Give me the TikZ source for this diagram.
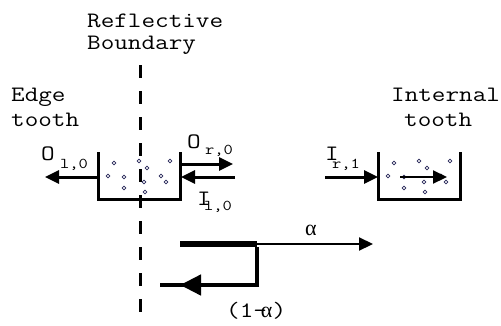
\documentclass[tikz,border=0pt]{standalone}
\usepackage{fontspec}
\newfontfamily\courfont{Latin Modern Mono}[FakeStretch=1.2]
\newfontfamily\greekfont{Liberation Serif}
\usetikzlibrary{arrows.meta}
\definecolor{dotcol}{RGB}{40,40,90}
\begin{document}
\begin{tikzpicture}[x=1pt,y=-1pt,
  lbl/.style={inner sep=0pt, anchor=base west, font=\courfont\fontsize{22}{24}\selectfont},
  sub/.style={inner sep=0pt, anchor=base west, font=\courfont\fontsize{15}{16}\selectfont},
  wall/.style={line width=3pt, miter limit=10},
  flow/.style={line width=3pt, -{Triangle[length=14pt,width=13pt]}},
  thinflow/.style={line width=2.2pt, -{Triangle[length=14pt,width=13pt]}},
  bigflow/.style={line width=4.5pt, -{Triangle[length=21pt,width=20pt]}},
  boundary/.style={line width=3pt, dash pattern=on 13pt off 13pt},
  particle/.style={circle, draw=dotcol, fill=white, line width=0.8pt, inner sep=0pt, minimum size=3.8pt}]
\useasboundingbox (0,0) rectangle (501,325);

% texts
\node[lbl] (refl) at (87,27) {Reflective};
\node[lbl] (bound) at (87,49) {Boundary};
\node[lbl] (edge) at (11,101) {Edge};
\node[lbl] (edgetooth) at (11,126) {tooth};
\node[lbl] (internal) at (391,101) {Internal};
\node[lbl] (inttooth) at (404,126) {tooth};

% reflective boundary
\coordinate (btop) at (140,65);
\coordinate (bbot) at (140,312);
\draw[boundary] (btop) -- (bbot);

% edge tooth box
\coordinate (e1) at (98,152);
\coordinate (e2) at (98,199);
\coordinate (e3) at (180,199);
\coordinate (e4) at (180,152);
\draw[wall] (e1) -- (e2) -- (e3) -- (e4);

% internal tooth box
\coordinate (i1) at (378,152);
\coordinate (i2) at (378,199);
\coordinate (i3) at (460,199);
\coordinate (i4) at (460,152);
\draw[wall] (i1) -- (i2) -- (i3) -- (i4);

% particles
\foreach \dx/\nm in {0/e,280/i}{
  \foreach \px/\py [count=\k] in {114/163,108/176,124/177,124/188,139/161,147/168,144/182,145/192,161/176,166/182,170/161}{
    \node[particle] (\nm dot\k) at (\px+\dx,\py) {};
  }
}

% edge tooth flows
\coordinate (ol0s) at (98,177);
\coordinate (ol0e) at (45,177);
\draw[flow] (ol0s) -- (ol0e);
\coordinate (or0s) at (180,164);
\coordinate (or0e) at (233,164);
\draw[flow] (or0s) -- (or0e);
\coordinate (il0s) at (235,177);
\coordinate (il0e) at (181,177);
\draw[flow] (il0s) -- (il0e);

% internal tooth flows
\coordinate (ir1s) at (325,177);
\coordinate (ir1e) at (378,177);
\draw[flow] (ir1s) -- (ir1e);
\coordinate (ins) at (400,177);
\coordinate (ine) at (447,177);
\draw[thinflow] (ins) -- (ine);

% flow labels
\node[lbl] (Ol) at (41,160) {O};
\node[sub] (Olsub) at (60,168) {l,0};
\node[lbl] (Or) at (187,148) {O};
\node[sub] (Orsub) at (205,154) {r,0};
\node[lbl] (Il) at (197,205) {I};
\node[sub] (Ilsub) at (204,210) {l,0};
\node[lbl] (Ir) at (325,160) {I};
\node[sub] (Irsub) at (332,168) {r,1};

% split alpha / (1-alpha)
\coordinate (s0) at (180,244);
\coordinate (s1) at (257,244);
\coordinate (s2) at (373,244);
\coordinate (s3) at (257,285);
\coordinate (s4) at (180,285);
\draw[line width=6pt] (s0) -- (s1);
\draw[thinflow] (s1) -- (s2);
\draw[line width=4.5pt] ([yshift=-3pt]s1) -- (s3) -- ([xshift=-20pt]s4);
\draw[bigflow] ([xshift=2pt]s3) -- (s4);
\node[inner sep=0pt, anchor=base west, font=\greekfont\fontsize{22}{24}\selectfont] (alpha) at (305,235) {α};
\node[lbl] (oneminus) at (226,317) {(1-\kern-6pt{\greekfont α})};
\end{tikzpicture}
\end{document}
